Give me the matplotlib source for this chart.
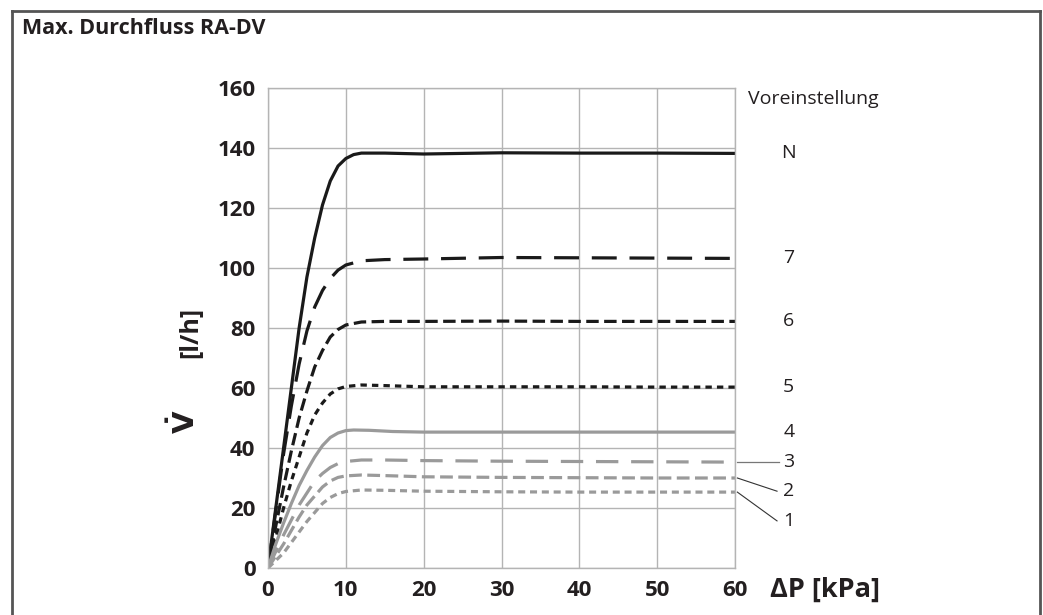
import numpy as np
import matplotlib
matplotlib.use("Agg")
import matplotlib.pyplot as plt
from matplotlib.lines import Line2D

plt.rcParams['font.family'] = ['Open Sans', 'DejaVu Sans']

# Kennlinien je Voreinstellung (dp in kPa, Durchfluss in l/h)
dp_N = [0, 1, 2, 3, 4, 5, 6, 7, 8, 9, 10, 11, 12, 15, 20, 30, 40, 50, 60]
q_N = [0, 20, 40, 60, 80, 97, 110, 121, 129, 134, 136.5, 137.8, 138.3, 138.3, 138.0, 138.4, 138.3, 138.3, 138.2]

dp_7 = [0, 1, 2, 3, 4, 5, 6, 7, 8, 9, 10, 12, 15, 20, 30, 40, 50, 60]
q_7 = [0, 19, 38, 54, 68, 79, 87, 92.5, 96.5, 99.3, 101, 102.4, 102.8, 103.0, 103.5, 103.4, 103.3, 103.2]

dp_6 = [0, 1, 2, 3, 4, 5, 6, 7, 8, 9, 10, 12, 15, 20, 30, 40, 50, 60]
q_6 = [0, 14, 27, 39, 50, 59, 67, 72.5, 77, 79.5, 81, 82, 82.2, 82.2, 82.3, 82.2, 82.2, 82.2]

dp_5 = [0, 1, 2, 3, 4, 5, 6, 7, 8, 9, 10, 12, 15, 20, 30, 40, 50, 60]
q_5 = [0, 10, 20, 29, 37, 45, 51, 55, 58, 59.7, 60.5, 61, 60.8, 60.4, 60.4, 60.4, 60.3, 60.3]

dp_4 = [0, 1, 2, 3, 4, 5, 6, 7, 8, 9, 10, 11, 13, 16, 20, 30, 40, 50, 60]
q_4 = [0, 8, 15, 21.5, 27.5, 32.5, 37, 40.8, 43.5, 45, 45.8, 46, 45.9, 45.5, 45.3, 45.3, 45.3, 45.3, 45.3]

dp_3 = [0, 1, 2, 3, 4, 5, 6, 7, 8, 9, 10, 12, 15, 20, 30, 40, 50, 60]
q_3 = [0, 5.5, 11, 16, 21, 25, 29, 31.5, 33.5, 34.8, 35.5, 36, 36, 35.8, 35.6, 35.5, 35.4, 35.3]

dp_2 = [0, 1, 2, 3, 4, 5, 6, 7, 8, 9, 10, 12, 15, 20, 30, 40, 50, 60]
q_2 = [0, 4, 8, 12.5, 17, 21, 24, 27, 29, 30.2, 30.7, 31, 30.8, 30.4, 30.2, 30.1, 30.0, 30.0]

dp_1 = [0, 1, 2, 3, 4, 5, 6, 7, 8, 9, 10, 12, 15, 20, 30, 40, 50, 60]
q_1 = [0, 2.5, 5, 8.5, 12, 15.5, 18.5, 21.5, 23.5, 24.8, 25.5, 26, 25.9, 25.6, 25.4, 25.3, 25.3, 25.3]

settings = ['N', '7', '6', '5', '4', '3', '2', '1']
curves_dp = [dp_N, dp_7, dp_6, dp_5, dp_4, dp_3, dp_2, dp_1]
curves_q = [q_N, q_7, q_6, q_5, q_4, q_3, q_2, q_1]

black = '#1a1a1a'
grey = '#9a9a9a'
styles = [
    (black, '-'),
    (black, (0, (7.8, 4.0))),
    (black, (0, (3.9, 1.7))),
    (black, (0, (2.0, 1.6))),
    (grey, '-'),
    (grey, (0, (7.0, 4.0))),
    (grey, (0, (4.0, 1.7))),
    (grey, (0, (2.2, 1.5))),
]
# label offsets for the lowest curves (leader lines)
label_shift = [0, 0, 0, 0, 0, 0, -4.4, -9.6]

W, H = 1043, 615
fig = plt.figure(figsize=(W / 100, H / 100), dpi=100)
ax = fig.add_axes([268 / W, 1 - 568 / H, (735 - 268) / W, (568 - 88) / H])

for dp, q, (c, ls) in zip(curves_dp, curves_q, styles):
    ax.plot(dp, q, color=c, linestyle=ls, lw=2.3, solid_joinstyle='round')

ax.set_xlim(0, 60)
ax.set_ylim(0, 160)
ax.set_xticks(range(0, 61, 10))
ax.set_yticks(range(0, 161, 20))
ax.grid(True, color='#b4b4b4', lw=1.0)
ax.set_axisbelow(True)
for s in ax.spines.values():
    s.set_color('#b4b4b4')
    s.set_linewidth(1.0)
ax.tick_params(length=0, pad=9, labelsize=16)
for lab in ax.get_xticklabels() + ax.get_yticklabels():
    lab.set_fontweight('bold')
    lab.set_color('#231f20')

# Beschriftung rechts
ax.text(61.7, 156.5, 'Voreinstellung', fontsize=14, va='center', ha='left',
        color='#231f20', clip_on=False)
for name, q, sh in zip(settings, curves_q, label_shift):
    ax.text(66.9, q[-1] + sh, name, fontsize=14, va='center', ha='center',
            color='#231f20', clip_on=False)

ax.plot([60.2, 65.6], [q_3[-1], q_3[-1]], color='#777777', lw=0.9, clip_on=False)
ax.plot([60.3, 65.4], [q_2[-1], q_2[-1] - 4.4], color='#333333', lw=0.8, clip_on=False)
ax.plot([60.3, 65.4], [q_1[-1], q_1[-1] - 9.6], color='#333333', lw=0.8, clip_on=False)

# Achsentitel
fig.text(770 / W, 1 - 590 / H, 'ΔP [kPa]', fontsize=19.5, fontweight='bold',
         ha='left', va='center', color='#231f20')
fig.text(191 / W, 1 - 332 / H, '[l/h]', fontsize=18, fontweight='bold',
         rotation=90, ha='center', va='center', color='#231f20')
fig.text(186 / W, 1 - 422 / H, r'$\mathbf{\dot{V}}$', fontsize=21,
         rotation=90, ha='center', va='center', color='#231f20')

fig.text(22 / W, 1 - 29 / H, 'Max. Durchfluss RA-DV', fontsize=15.5,
         fontweight='bold', ha='left', va='center', color='#231f20')

# Rahmen (ohne Unterkante)
frame = dict(color='#555555', lw=2.0, transform=fig.transFigure)
fig.add_artist(Line2D([12 / W, 12 / W], [0, 1 - 11 / H], **frame))
fig.add_artist(Line2D([12 / W, 1040 / W], [1 - 11 / H, 1 - 11 / H], **frame))
fig.add_artist(Line2D([1040 / W, 1040 / W], [0, 1 - 11 / H], **frame))

fig.savefig('out.png', dpi=100)
